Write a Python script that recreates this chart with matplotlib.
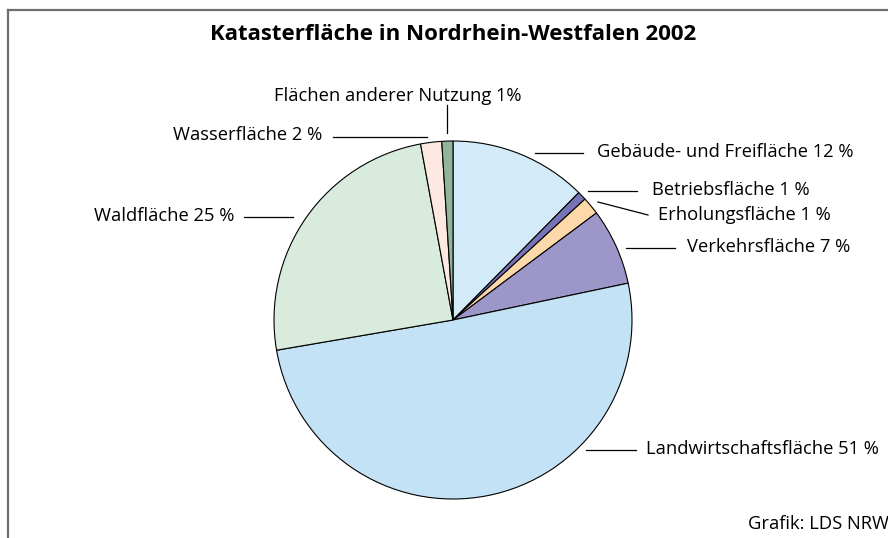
import matplotlib.pyplot as plt

# Katasterfläche NRW 2002, Anteile in %
categories = ['Gebäude- und Freifläche', 'Betriebsfläche', 'Erholungsfläche',
              'Verkehrsfläche', 'Landwirtschaftsfläche', 'Waldfläche',
              'Wasserfläche', 'Flächen anderer Nutzung']
shares = [12.4, 0.8, 1.6, 6.9, 50.6, 24.8, 1.9, 1.0]
labels = ['Gebäude- und Freifläche 12 %', 'Betriebsfläche 1 %', 'Erholungsfläche 1 %',
          'Verkehrsfläche 7 %', 'Landwirtschaftsfläche 51 %', 'Waldfläche 25 %',
          'Wasserfläche 2 %', 'Flächen anderer Nutzung 1%']
colors = ['#d3eaf8', '#7674b6', '#fdd8a8', '#9d96c9',
          '#c3e2f6', '#d8ebdc', '#fde9e1', '#8fb59a']

W, H = 888, 538
plt.rcParams['font.family'] = ['Open Sans', 'DejaVu Sans']

fig = plt.figure(figsize=(W / 100, H / 100), dpi=100)
ax = fig.add_axes([0, 0, 1, 1])

def py(y):
    # pixel row -> data y
    return H - y

ax.pie(shares, colors=colors, startangle=90, counterclock=False,
       center=(453, py(320)), radius=179,
       wedgeprops=dict(edgecolor='black', linewidth=0.8), frame=True)
ax.set_xlim(0, W)
ax.set_ylim(0, H)
ax.set_aspect('equal')
ax.axis('off')

# frame (only left and top visible)
ax.plot([8, 8], [py(10), py(H + 5)], color='#6e6e6e', lw=1.6, clip_on=False)
ax.plot([8, W + 5], [py(10), py(10)], color='#6e6e6e', lw=1.6, clip_on=False)

ax.text(453, py(35), 'Katasterfläche in Nordrhein-Westfalen 2002',
        ha='center', va='center', fontsize=16, fontweight='bold')

fs = 13.2
# label layout: (line start, line end, text x, text y, ha)
layout = [
    ((535, 153), (583, 153), 597, 152, 'left'),
    ((588, 191), (637, 191), 652, 190, 'left'),
    ((598, 202), (648, 215), 658, 215, 'left'),
    ((626, 248), (675, 248), 687, 247, 'left'),
    ((586, 450), (636, 450), 646, 449, 'left'),
    ((293, 217), (244, 217), 234, 216, 'right'),
    ((427, 137), (333, 137), 322, 135, 'right'),
    ((447, 133), (447, 105), 398, 96, 'center'),
]
for lab, (p0, p1, tx, ty, ha) in zip(labels, layout):
    ax.plot([p0[0], p1[0]], [py(p0[1]), py(p1[1])], color='black', lw=0.9)
    ax.text(tx, py(ty), lab, ha=ha, va='center', fontsize=fs)

ax.text(748, py(524), 'Grafik: LDS NRW', ha='left', va='center', fontsize=fs)

fig.savefig('out.png', dpi=100)
